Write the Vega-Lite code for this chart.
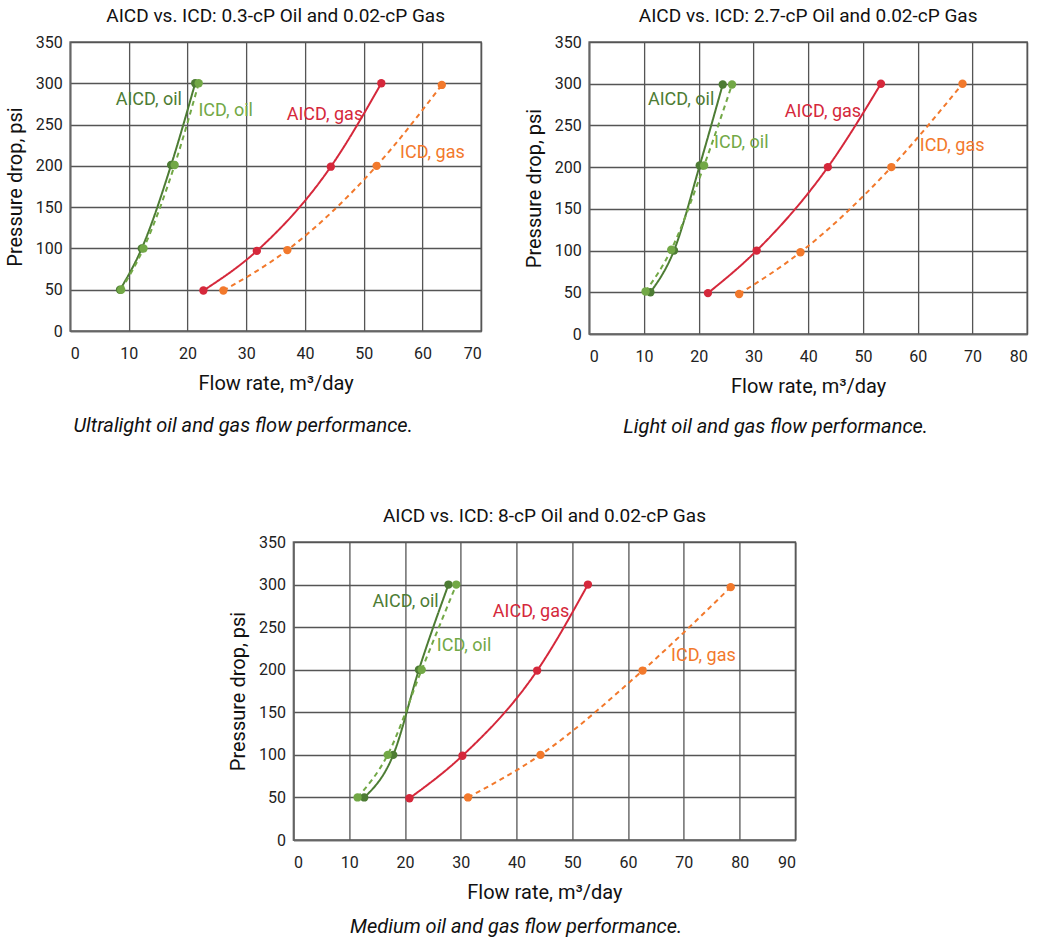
{
  "$schema": "https://vega.github.io/schema/vega-lite/v6.json",
  "background": "white",
  "padding": {"left": 4, "top": 6, "right": 5, "bottom": 5},
  "config": {
    "font": "Roboto, Liberation Sans, sans-serif",
    "view": {"stroke": "#666", "strokeWidth": 1.5},
    "axis": {
      "labelFontSize": 16, "titleFontSize": 20, "titleFontWeight": "normal",
      "labelColor": "#222", "titleColor": "#111",
      "gridColor": "#555", "gridWidth": 1.3, "gridOpacity": 1,
      "domainColor": "#666", "domainWidth": 1.5, "ticks": false
    },
    "axisX": {"labelPadding": 14, "titlePadding": 12},
    "axisY": {"labelPadding": 8, "titlePadding": 10},
    "title": {"fontSize": 20, "fontWeight": "normal", "color": "#111", "offset": 8},
    "concat": {"spacing": 40}
  },
  "datasets": {
    "points": [
      {"panel": 1, "series": "AICD, oil", "flow": 8.5, "dp": 50},
      {"panel": 1, "series": "AICD, oil", "flow": 12.2, "dp": 100},
      {"panel": 1, "series": "AICD, oil", "flow": 17.2, "dp": 201},
      {"panel": 1, "series": "AICD, oil", "flow": 21.3, "dp": 300},
      {"panel": 1, "series": "ICD, oil", "flow": 8.7, "dp": 50},
      {"panel": 1, "series": "ICD, oil", "flow": 12.5, "dp": 100},
      {"panel": 1, "series": "ICD, oil", "flow": 17.8, "dp": 201},
      {"panel": 1, "series": "ICD, oil", "flow": 21.9, "dp": 300},
      {"panel": 1, "series": "AICD, gas", "flow": 22.7, "dp": 49},
      {"panel": 1, "series": "AICD, gas", "flow": 31.8, "dp": 97},
      {"panel": 1, "series": "AICD, gas", "flow": 44.4, "dp": 199},
      {"panel": 1, "series": "AICD, gas", "flow": 53.0, "dp": 300},
      {"panel": 1, "series": "ICD, gas", "flow": 26.1, "dp": 49},
      {"panel": 1, "series": "ICD, gas", "flow": 37.0, "dp": 98},
      {"panel": 1, "series": "ICD, gas", "flow": 52.2, "dp": 200},
      {"panel": 1, "series": "ICD, gas", "flow": 63.3, "dp": 298},
      {"panel": 2, "series": "AICD, oil", "flow": 11.2, "dp": 50},
      {"panel": 2, "series": "AICD, oil", "flow": 15.5, "dp": 100},
      {"panel": 2, "series": "AICD, oil", "flow": 20.2, "dp": 202},
      {"panel": 2, "series": "AICD, oil", "flow": 24.4, "dp": 299},
      {"panel": 2, "series": "ICD, oil", "flow": 10.3, "dp": 51},
      {"panel": 2, "series": "ICD, oil", "flow": 15.0, "dp": 101},
      {"panel": 2, "series": "ICD, oil", "flow": 21.0, "dp": 202},
      {"panel": 2, "series": "ICD, oil", "flow": 26.1, "dp": 299},
      {"panel": 2, "series": "AICD, gas", "flow": 21.7, "dp": 49},
      {"panel": 2, "series": "AICD, gas", "flow": 30.6, "dp": 100},
      {"panel": 2, "series": "AICD, gas", "flow": 43.6, "dp": 200},
      {"panel": 2, "series": "AICD, gas", "flow": 53.3, "dp": 300},
      {"panel": 2, "series": "ICD, gas", "flow": 27.4, "dp": 48},
      {"panel": 2, "series": "ICD, gas", "flow": 38.6, "dp": 98},
      {"panel": 2, "series": "ICD, gas", "flow": 55.2, "dp": 200},
      {"panel": 2, "series": "ICD, gas", "flow": 68.2, "dp": 300},
      {"panel": 3, "series": "AICD, oil", "flow": 12.7, "dp": 50},
      {"panel": 3, "series": "AICD, oil", "flow": 17.9, "dp": 100},
      {"panel": 3, "series": "AICD, oil", "flow": 22.5, "dp": 200},
      {"panel": 3, "series": "AICD, oil", "flow": 27.8, "dp": 300},
      {"panel": 3, "series": "ICD, oil", "flow": 11.5, "dp": 50},
      {"panel": 3, "series": "ICD, oil", "flow": 16.9, "dp": 100},
      {"panel": 3, "series": "ICD, oil", "flow": 23.0, "dp": 200},
      {"panel": 3, "series": "ICD, oil", "flow": 29.2, "dp": 300},
      {"panel": 3, "series": "AICD, gas", "flow": 20.8, "dp": 49},
      {"panel": 3, "series": "AICD, gas", "flow": 30.3, "dp": 99},
      {"panel": 3, "series": "AICD, gas", "flow": 43.7, "dp": 199},
      {"panel": 3, "series": "AICD, gas", "flow": 52.8, "dp": 300},
      {"panel": 3, "series": "ICD, gas", "flow": 31.3, "dp": 50},
      {"panel": 3, "series": "ICD, gas", "flow": 44.3, "dp": 100},
      {"panel": 3, "series": "ICD, gas", "flow": 62.6, "dp": 199},
      {"panel": 3, "series": "ICD, gas", "flow": 78.4, "dp": 297}
    ],
    "labels": [
      {"panel": 1, "series": "AICD, oil", "flow": 13.4, "dp": 280},
      {"panel": 1, "series": "ICD, oil", "flow": 26.5, "dp": 267},
      {"panel": 1, "series": "AICD, gas", "flow": 43.4, "dp": 261},
      {"panel": 1, "series": "ICD, gas", "flow": 61.7, "dp": 215},
      {"panel": 2, "series": "AICD, oil", "flow": 16.8, "dp": 280},
      {"panel": 2, "series": "ICD, oil", "flow": 27.8, "dp": 229},
      {"panel": 2, "series": "AICD, gas", "flow": 42.7, "dp": 266},
      {"panel": 2, "series": "ICD, gas", "flow": 66.3, "dp": 225},
      {"panel": 3, "series": "AICD, oil", "flow": 20.1, "dp": 280},
      {"panel": 3, "series": "ICD, oil", "flow": 30.6, "dp": 228},
      {"panel": 3, "series": "AICD, gas", "flow": 42.6, "dp": 268},
      {"panel": 3, "series": "ICD, gas", "flow": 73.5, "dp": 216}
    ]
  },
  "vconcat": [
    {
      "hconcat": [
        {
          "title": {"text": "Ultralight oil and gas flow performance.", "orient": "bottom", "anchor": "middle", "fontStyle": "italic", "fontSize": 20, "offset": 22},
          "vconcat": [
            {
              "title": {"text": "AICD vs. ICD: 0.3-cP Oil and 0.02-cP Gas", "fontSize": 19},
              "width": 411, "height": 289,
              "encoding": {
                "x": {"field": "flow", "type": "quantitative", "scale": {"domain": [0, 70], "nice": false}, "axis": {"values": [0,10,20,30,40,50,60,70], "title": "Flow rate, m³/day"}},
                "y": {"field": "dp", "type": "quantitative", "scale": {"domain": [0, 350], "nice": false}, "axis": {"values": [0,50,100,150,200,250,300,350], "title": "Pressure drop, psi"}},
                "color": {"field": "series", "type": "nominal", "scale": {"domain": ["AICD, oil", "ICD, oil", "AICD, gas", "ICD, gas"], "range": ["#4d7c34", "#72a846", "#d5283b", "#f2792c"]}, "legend": null}
              },
              "layer": [
                {"data": {"name": "points"}, "transform": [{"filter": "datum.panel == 1"}], "mark": {"type": "line", "interpolate": "monotone", "strokeWidth": 2}, "encoding": {"strokeDash": {"field": "series", "type": "nominal", "scale": {"domain": ["AICD, oil", "ICD, oil", "AICD, gas", "ICD, gas"], "range": [[1,0],[5,4],[1,0],[5,4]]}, "legend": null}, "order": {"field": "dp"}}},
                {"data": {"name": "points"}, "transform": [{"filter": "datum.panel == 1"}], "mark": {"type": "circle", "size": 70, "opacity": 1}},
                {"data": {"name": "labels"}, "transform": [{"filter": "datum.panel == 1"}], "mark": {"type": "text", "fontSize": 18}, "encoding": {"text": {"field": "series"}}}
              ]
            }
          ]
        },
        {
          "title": {"text": "Light oil and gas flow performance.", "orient": "bottom", "anchor": "middle", "fontStyle": "italic", "fontSize": 20, "offset": 20},
          "vconcat": [
            {
              "title": {"text": "AICD vs. ICD: 2.7-cP Oil and 0.02-cP Gas", "fontSize": 19},
              "width": 438, "height": 292,
              "encoding": {
                "x": {"field": "flow", "type": "quantitative", "scale": {"domain": [0, 80], "nice": false}, "axis": {"values": [0,10,20,30,40,50,60,70,80], "title": "Flow rate, m³/day"}},
                "y": {"field": "dp", "type": "quantitative", "scale": {"domain": [0, 350], "nice": false}, "axis": {"values": [0,50,100,150,200,250,300,350], "title": "Pressure drop, psi"}},
                "color": {"field": "series", "type": "nominal", "scale": {"domain": ["AICD, oil", "ICD, oil", "AICD, gas", "ICD, gas"], "range": ["#4d7c34", "#72a846", "#d5283b", "#f2792c"]}, "legend": null}
              },
              "layer": [
                {"data": {"name": "points"}, "transform": [{"filter": "datum.panel == 2"}], "mark": {"type": "line", "interpolate": "monotone", "strokeWidth": 2}, "encoding": {"strokeDash": {"field": "series", "type": "nominal", "scale": {"domain": ["AICD, oil", "ICD, oil", "AICD, gas", "ICD, gas"], "range": [[1,0],[5,4],[1,0],[5,4]]}, "legend": null}, "order": {"field": "dp"}}},
                {"data": {"name": "points"}, "transform": [{"filter": "datum.panel == 2"}], "mark": {"type": "circle", "size": 70, "opacity": 1}},
                {"data": {"name": "labels"}, "transform": [{"filter": "datum.panel == 2"}], "mark": {"type": "text", "fontSize": 18}, "encoding": {"text": {"field": "series"}}}
              ]
            }
          ]
        }
      ],
      "spacing": 41
    },
    {
      "title": {"text": "Medium oil and gas flow performance.", "orient": "bottom", "anchor": "middle", "fontStyle": "italic", "fontSize": 20, "offset": 14},
      "vconcat": [
        {
          "title": {"text": "AICD vs. ICD: 8-cP Oil and 0.02-cP Gas", "fontSize": 19},
          "width": 502, "height": 298,
          "encoding": {
            "x": {"field": "flow", "type": "quantitative", "scale": {"domain": [0, 90], "nice": false}, "axis": {"values": [0,10,20,30,40,50,60,70,80,90], "title": "Flow rate, m³/day"}},
            "color": {"field": "series", "type": "nominal", "scale": {"domain": ["AICD, oil", "ICD, oil", "AICD, gas", "ICD, gas"], "range": ["#4d7c34", "#72a846", "#d5283b", "#f2792c"]}, "legend": null}
          },
          "layer": [
            {"data": {"name": "points"}, "transform": [{"filter": "datum.panel == 3"}], "mark": {"type": "line", "interpolate": "monotone", "strokeWidth": 2}, "encoding": {"y": {"field": "dp", "type": "quantitative", "scale": {"domain": [0, 350], "nice": false}, "axis": {"values": [0,50,100,150,200,250,300,350], "title": "Pressure drop, psi"}}, "strokeDash": {"field": "series", "type": "nominal", "scale": {"domain": ["AICD, oil", "ICD, oil", "AICD, gas", "ICD, gas"], "range": [[1,0],[5,4],[1,0],[5,4]]}, "legend": null}, "order": {"field": "dp"}}},
            {"data": {"name": "points"}, "transform": [{"filter": "datum.panel == 3"}], "mark": {"type": "circle", "size": 70, "opacity": 1}, "encoding": {"y": {"field": "dp", "type": "quantitative", "scale": {"domain": [0, 350], "nice": false}, "axis": {"orient": "right", "values": [350], "grid": false, "domain": false, "labelOpacity": 0, "labelFontSize": 5, "labelPadding": 0, "title": null}}}},
            {"data": {"name": "labels"}, "transform": [{"filter": "datum.panel == 3"}], "mark": {"type": "text", "fontSize": 18}, "encoding": {"y": {"field": "dp", "type": "quantitative", "scale": {"domain": [0, 350], "nice": false}, "axis": null}, "text": {"field": "series"}}}
          ],
          "resolve": {"axis": {"y": "independent"}}
        }
      ]
    }
  ],
  "center": true,
  "spacing": 69
}
